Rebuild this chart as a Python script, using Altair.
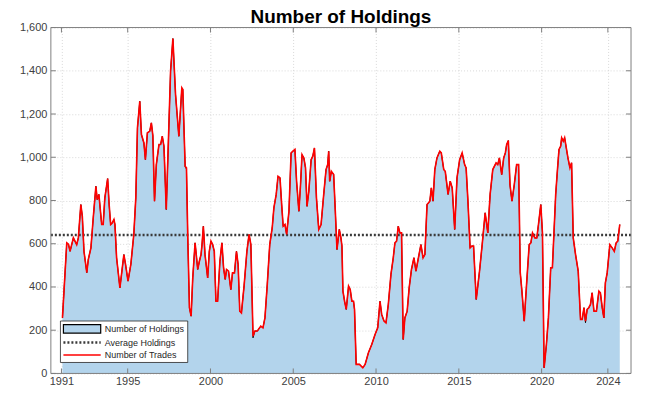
import altair as alt
import pandas as pd

years = [
    1991.06, 1991.32, 1991.42, 1991.52, 1991.72, 1991.92, 1992.02, 1992.17, 1992.26, 1992.36,
    1992.53, 1992.62, 1992.78, 1992.92, 1993.08, 1993.16, 1993.26, 1993.43, 1993.52, 1993.62,
    1993.79, 1993.88, 1993.97, 1994.06, 1994.17, 1994.23, 1994.33, 1994.53, 1994.77, 1994.87,
    1995.02, 1995.19, 1995.37, 1995.49, 1995.59, 1995.73, 1995.83, 1995.98, 1996.07, 1996.19,
    1996.33, 1996.43, 1996.52, 1996.62, 1996.73, 1996.89, 1996.99, 1997.09, 1997.19, 1997.33,
    1997.59, 1997.73, 1997.89, 1998.09, 1998.27, 1998.33, 1998.47, 1998.55, 1998.63, 1998.73,
    1998.83, 1998.93, 1999.07, 1999.23, 1999.33, 1999.43, 1999.49, 1999.57, 1999.67, 1999.83,
    1999.93, 2000.03, 2000.13, 2000.23, 2000.33, 2000.43, 2000.57, 2000.69, 2000.79, 2000.89,
    2000.97, 2001.09, 2001.23, 2001.33, 2001.45, 2001.57, 2001.67, 2001.77, 2001.87, 2002.03,
    2002.20, 2002.33, 2002.44, 2002.57, 2002.68, 2002.83, 2003.04, 2003.17, 2003.29, 2003.43,
    2003.58, 2003.73, 2003.83, 2003.97, 2004.08, 2004.20, 2004.30, 2004.39, 2004.50, 2004.60,
    2004.74, 2004.87, 2004.98, 2005.10, 2005.20, 2005.34, 2005.44, 2005.53, 2005.64, 2005.74,
    2005.83, 2005.94, 2006.08, 2006.18, 2006.28, 2006.40, 2006.54, 2006.68, 2006.84, 2006.98,
    2007.08, 2007.14, 2007.20, 2007.30, 2007.44, 2007.54, 2007.64, 2007.78, 2007.88, 2007.94,
    2008.00, 2008.10, 2008.20, 2008.34, 2008.44, 2008.54, 2008.64, 2008.70, 2008.80, 2009.00,
    2009.20, 2009.34, 2009.54, 2009.74, 2009.94, 2010.10, 2010.24, 2010.34, 2010.48, 2010.60,
    2010.74, 2010.90, 2011.04, 2011.14, 2011.24, 2011.34, 2011.44, 2011.54, 2011.64, 2011.74,
    2011.88, 2012.00, 2012.14, 2012.29, 2012.41, 2012.54, 2012.71, 2012.84, 2012.95, 2013.08,
    2013.25, 2013.34, 2013.44, 2013.55, 2013.68, 2013.85, 2013.94, 2014.09, 2014.18, 2014.35,
    2014.48, 2014.60, 2014.75, 2014.89, 2015.05, 2015.20, 2015.35, 2015.44, 2015.55, 2015.68,
    2015.78, 2015.89, 2016.05, 2016.25, 2016.41, 2016.59, 2016.75, 2016.89, 2017.05, 2017.25,
    2017.35, 2017.45, 2017.59, 2017.71, 2017.81, 2017.89, 2017.99, 2018.09, 2018.21, 2018.35,
    2018.49, 2018.61, 2018.71, 2018.81, 2018.95, 2019.09, 2019.25, 2019.35, 2019.45, 2019.59,
    2019.71, 2019.81, 2019.95, 2020.05, 2020.15, 2020.29, 2020.41, 2020.55, 2020.65, 2020.75,
    2020.85, 2020.95, 2021.05, 2021.15, 2021.21, 2021.31, 2021.39, 2021.49, 2021.59, 2021.71,
    2021.81, 2021.91, 2022.05, 2022.21, 2022.35, 2022.45, 2022.56, 2022.65, 2022.75, 2022.85,
    2022.95, 2023.05, 2023.16, 2023.31, 2023.46, 2023.55, 2023.66, 2023.76, 2023.85, 2023.96,
    2024.12, 2024.26, 2024.39, 2024.50, 2024.60, 2024.72,
]

holdings = [
    257, 604, 598, 565, 627, 596, 627, 781, 727, 565,
    466, 527, 581, 720, 866, 804, 828, 689, 689, 812,
    901, 781, 689, 695, 712, 689, 535, 396, 550, 504,
    427, 504, 643, 812, 1136, 1259, 1105, 1066, 989, 1113,
    1120, 1159, 1100, 797, 966, 1059, 1059, 1097, 1051, 758,
    1398, 1549, 1290, 1097, 1321, 1313, 958, 945, 627, 304,
    265, 442, 604, 481, 519, 550, 596, 681, 550, 442,
    565, 612, 596, 565, 334, 334, 519, 604, 489, 435,
    481, 473, 388, 465, 465, 565, 504, 288, 280, 405,
    565, 643, 596, 165, 196, 196, 219, 211, 257, 411,
    596, 674, 766, 828, 912, 905, 781, 681, 689, 643,
    750, 1020, 1028, 1036, 889, 750, 874, 1012, 997, 951,
    773, 843, 989, 1005, 1043, 812, 666, 689, 828, 943,
    966, 1028, 889, 935, 920, 750, 573, 666, 627, 589,
    381, 334, 296, 404, 388, 334, 334, 296, 42, 42,
    26, 42, 96, 134, 180, 211, 334, 273, 242, 234,
    319, 458, 535, 604, 612, 681, 650, 650, 157, 257,
    288, 396, 481, 535, 473, 527, 596, 535, 550, 781,
    797, 858, 797, 943, 997, 1028, 1020, 943, 935, 828,
    889, 858, 666, 905, 989, 1020, 966, 951, 797, 581,
    589, 589, 342, 473, 596, 743, 650, 828, 943, 974,
    966, 997, 920, 997, 1020, 1059, 1077, 870, 797, 874,
    966, 966, 466, 381, 242, 411, 596, 604, 650, 627,
    627, 689, 781, 650, 26, 134, 257, 489, 489, 658,
    828, 935, 1036, 1051, 1090, 1074, 1090, 1043, 997, 951,
    974, 627, 550, 473, 250, 250, 304, 235, 296, 304,
    319, 373, 288, 288, 381, 373, 304, 257, 419, 465,
    596, 581, 565, 604, 612, 689,
]

trades = [
    257, 604, 598, 565, 627, 596, 627, 781, 727, 565,
    466, 527, 581, 720, 866, 804, 828, 689, 689, 812,
    901, 781, 689, 695, 712, 689, 535, 396, 550, 504,
    427, 504, 643, 812, 1136, 1259, 1105, 1066, 989, 1113,
    1120, 1159, 1100, 797, 966, 1059, 1059, 1097, 1051, 758,
    1398, 1549, 1290, 1097, 1321, 1313, 958, 951, 627, 304,
    265, 442, 604, 481, 519, 550, 596, 681, 550, 442,
    565, 612, 596, 565, 334, 334, 519, 604, 489, 435,
    481, 473, 388, 465, 465, 565, 504, 288, 280, 405,
    565, 643, 596, 172, 196, 196, 219, 211, 257, 411,
    596, 674, 766, 828, 912, 905, 781, 681, 689, 643,
    750, 1020, 1028, 1036, 889, 750, 874, 1012, 997, 951,
    773, 843, 989, 1005, 1043, 812, 666, 689, 828, 943,
    966, 1028, 889, 935, 920, 750, 573, 666, 627, 589,
    381, 334, 296, 404, 388, 334, 334, 296, 42, 42,
    26, 42, 96, 134, 180, 211, 334, 273, 242, 234,
    319, 458, 535, 604, 612, 681, 650, 650, 157, 257,
    288, 396, 481, 535, 473, 527, 596, 535, 550, 781,
    797, 858, 797, 943, 997, 1028, 1020, 943, 935, 828,
    889, 858, 666, 905, 989, 1020, 966, 951, 797, 581,
    589, 589, 342, 473, 596, 743, 650, 828, 943, 974,
    966, 997, 920, 997, 1020, 1059, 1077, 874, 797, 874,
    966, 966, 466, 381, 242, 411, 596, 604, 650, 627,
    627, 689, 781, 650, 26, 134, 257, 489, 489, 658,
    828, 935, 1036, 1051, 1090, 1074, 1090, 1043, 997, 951,
    974, 627, 550, 473, 250, 250, 304, 242, 296, 304,
    319, 373, 288, 288, 381, 373, 304, 257, 419, 465,
    596, 581, 565, 604, 612, 689,
]

average_holdings = [640]
x_tick_years = [1991, 1995, 2000, 2005, 2010, 2015, 2020, 2024]
y_tick_values = [0, 200, 400, 600, 800, 1000, 1200, 1400, 1600]
legend_labels = ["Number of Holdings", "Average Holdings", "Number of Trades"]

W, H = 582, 347
FONT = "Liberation Sans"
AREA_BLUE = "#b3d4ec"
FRAME = "#808080"

df = pd.DataFrame({"year": years, "holdings": holdings, "trades": trades})
avg_df = pd.DataFrame({"avg": average_holdings})
xt_df = pd.DataFrame({"year": x_tick_years})
yt_df = pd.DataFrame({"holdings": y_tick_values})
one = pd.DataFrame({"k": [0]})

xs = alt.Scale(domain=[1990.36, 2025.40], nice=False, zero=False)
ys = alt.Scale(domain=[0, 1600], nice=False)

x_axis = alt.Axis(values=x_tick_years, format="d", title=None, grid=True,
                  gridColor="#cfcfcf", gridDash=[1, 2], gridWidth=0.8,
                  ticks=False, domain=False, labelFont=FONT, labelFontSize=11,
                  labelColor="#404040", labelPadding=2)
y_axis = alt.Axis(values=y_tick_values, format=",.0f", title=None, grid=True,
                  gridColor="#cfcfcf", gridDash=[1, 2], gridWidth=0.8,
                  ticks=False, domain=False, labelFont=FONT, labelFontSize=11,
                  labelColor="#404040", labelPadding=4)

X = alt.X("year:Q", scale=xs, axis=x_axis)
Y_h = alt.Y("holdings:Q", scale=ys, axis=y_axis)

area = alt.Chart(df).mark_area(color=AREA_BLUE, opacity=1).encode(x=X, y=Y_h)
edge = alt.Chart(df).mark_line(color="black", strokeWidth=1).encode(x=X, y=Y_h)
avg = alt.Chart(avg_df).mark_rule(color="#3a3a3a", strokeDash=[2, 2], strokeWidth=2.5).encode(
    y=alt.Y("avg:Q", scale=ys, axis=y_axis),
)
trade_line = alt.Chart(df).mark_line(color="#ff0000", strokeWidth=1.6).encode(
    x=X, y=alt.Y("trades:Q", scale=ys, axis=y_axis),
)

tick_style = dict(color=FRAME, strokeWidth=1)
xt_bottom = alt.Chart(xt_df).mark_rule(**tick_style).encode(
    x=X, y=alt.value(H - 5), y2=alt.value(H))
xt_top = alt.Chart(xt_df).mark_rule(**tick_style).encode(
    x=X, y=alt.value(0), y2=alt.value(5))
yt_left = alt.Chart(yt_df).mark_rule(**tick_style).encode(
    y=Y_h, x=alt.value(0), x2=alt.value(5))
yt_right = alt.Chart(yt_df).mark_rule(**tick_style).encode(
    y=Y_h, x=alt.value(W - 5), x2=alt.value(W))

frame = alt.Chart(one).mark_rect(fillOpacity=0, stroke=FRAME, strokeWidth=1).encode(
    x=alt.value(0), x2=alt.value(W), y=alt.value(0), y2=alt.value(H))

# legend
lg_box = alt.Chart(one).mark_rect(fill="white", stroke="#262626", strokeWidth=0.8).encode(
    x=alt.value(9.6), x2=alt.value(137.3), y=alt.value(294.4), y2=alt.value(336))
lg_sw = alt.Chart(one).mark_rect(fill=AREA_BLUE, stroke="black", strokeWidth=1.2).encode(
    x=alt.value(12.6), x2=alt.value(50), y=alt.value(298), y2=alt.value(306.5))
lg_dot = alt.Chart(one).mark_rule(color="#3a3a3a", strokeDash=[2, 2], strokeWidth=2.5).encode(
    x=alt.value(12.6), x2=alt.value(50), y=alt.value(316))
lg_red = alt.Chart(one).mark_rule(color="#ff0000", strokeWidth=1.5).encode(
    x=alt.value(12.6), x2=alt.value(50), y=alt.value(328.5))
text_style = dict(align="left", baseline="middle", fontSize=9, font=FONT, color="#262626")
lg_t1 = alt.Chart(one).mark_text(**text_style).encode(
    x=alt.value(54), y=alt.value(302.5), text=alt.value(legend_labels[0]))
lg_t2 = alt.Chart(one).mark_text(**text_style).encode(
    x=alt.value(54), y=alt.value(316), text=alt.value(legend_labels[1]))
lg_t3 = alt.Chart(one).mark_text(**text_style).encode(
    x=alt.value(54), y=alt.value(329), text=alt.value(legend_labels[2]))

chart = alt.layer(
    area, edge, avg, trade_line, xt_bottom, xt_top, yt_left, yt_right, frame,
    lg_box, lg_sw, lg_dot, lg_red, lg_t1, lg_t2, lg_t3,
).properties(
    width=W, height=H,
    title=alt.TitleParams("Number of Holdings", fontSize=19, font=FONT, fontWeight="bold",
                          color="black", anchor="middle", frame="group", offset=3, dy=8),
    padding={"left": 43, "top": 19, "right": 8, "bottom": 13},
    autosize=alt.AutoSizeParams(type="none"),
).configure_view(stroke=None)

chart.save("out.html", embed_options={"renderer": "svg", "actions": False})
